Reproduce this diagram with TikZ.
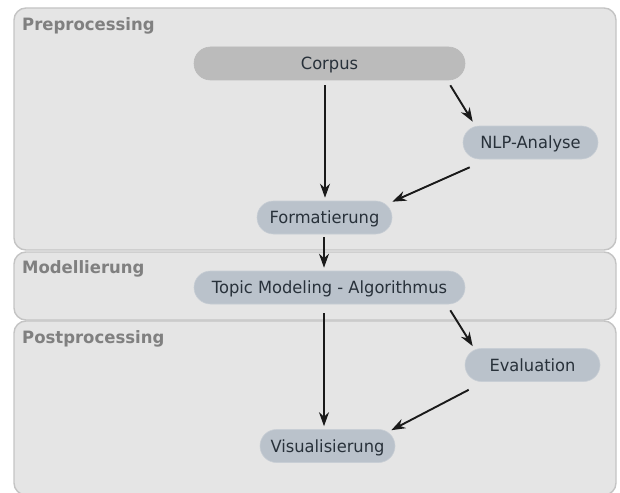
\documentclass[tikz,border=0pt]{standalone}
\usepackage{fontspec}
\setmainfont{DejaVu Sans}[FakeStretch=0.97]
\usetikzlibrary{arrows.meta,calc}
\definecolor{lanefill}{HTML}{E5E5E5}
\definecolor{laneborder}{HTML}{C4C4C4}
\definecolor{lanetitle}{HTML}{808080}
\definecolor{boxblue}{HTML}{BAC2CB}
\definecolor{boxgray}{HTML}{BBBBBB}
\definecolor{boxtext}{HTML}{28313A}
\definecolor{arrowcol}{HTML}{1A1A1A}
\tikzset{
  lane/.style={draw=laneborder, line width=1.4pt, fill=lanefill, rounded corners=12pt},
  lanelabel/.style={anchor=base west, text=lanetitle, font=\fontsize{17}{20}\selectfont\bfseries, inner sep=0pt},
  stepbox/.style={draw=boxblue!80!white, line width=0.6pt, fill=boxblue, rounded corners=16.5pt, minimum height=33pt, minimum width=135pt, inner sep=0pt, text height=12.2pt, text depth=0pt, text=boxtext, font=\fontsize{16.8}{19}\selectfont},
  widebox/.style={stepbox, minimum width=271pt},
  arr/.style={-{Stealth[length=14pt,width=10pt,inset=4.5pt]}, line width=1.9pt, draw=arrowcol}
}
\begin{document}
\begin{tikzpicture}[x=1pt,y=-1pt]
\useasboundingbox (0,0) rectangle (620,492);
% lanes
\path[lane] (14,321) rectangle (616,495);
\path[lane] (14,252) rectangle (616,320);
\path[lane] (14,8) rectangle (616,250);
\node[lanelabel] (l1) at (22,31) {Preprocessing};
\node[lanelabel] (l2) at (22,273) {Modellierung};
\node[lanelabel] (l3) at (22,343) {Postprocessing};
% nodes
\node[widebox, fill=boxgray, draw=boxgray] (corpus) at (329.5,63.5) {Corpus};
\node[stepbox] (nlp) at (530.5,142.5) {NLP-Analyse};
\node[stepbox] (form) at (324.5,217.5) {Formatierung};
\node[widebox] (topic) at (329.5,287.5) {Topic Modeling - Algorithmus};
\node[stepbox] (eval) at (532.5,365) {Evaluation};
\node[stepbox] (vis) at (327.5,446) {Visualisierung};
% arrows
\draw[arr] ($(corpus.south)+(-4.5,5)$) -- ($(form.north)+(0.5,-3)$);
\draw[arr] ($(corpus.south east)+(-15,5)$) -- ($(nlp.north west)+(10,-4)$);
\draw[arr] ($(nlp.south west)+(7,8)$) -- ($(form.north east)+(0,1)$);
\draw[arr] ($(form.south)+(-0.5,3)$) -- ($(topic.north)+(-5.5,-3)$);
\draw[arr] ($(topic.south)+(-5.5,9)$) -- ($(vis.north)+(-3.5,-3)$);
\draw[arr] ($(topic.south east)+(-15,6)$) -- ($(eval.north west)+(8,-2)$);
\draw[arr] ($(eval.south west)+(4,8)$) -- ($(vis.north east)+(-4,1)$);
\end{tikzpicture}
\end{document}
